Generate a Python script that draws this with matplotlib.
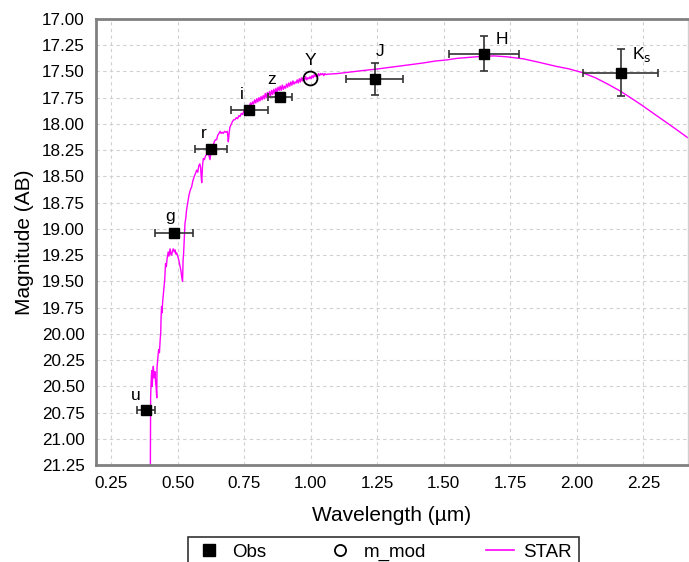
import matplotlib
matplotlib.use("Agg")
import matplotlib.pyplot as plt
from matplotlib.lines import Line2D
from matplotlib.ticker import MultipleLocator, FormatStrFormatter

plt.rcParams['font.family'] = ['Liberation Sans', 'DejaVu Sans']

# observed photometry
bands = ['u', 'g', 'r', 'i', 'z', 'J', 'H', r'K$_\mathrm{s}$']
obs_wl = [0.379, 0.486, 0.625, 0.769, 0.885, 1.240, 1.651, 2.165]
obs_mag = [20.73, 19.04, 18.24, 17.87, 17.74, 17.57, 17.33, 17.51]
obs_xerr = [0.034, 0.073, 0.061, 0.069, 0.046, 0.108, 0.131, 0.141]
obs_yerr = [0.0, 0.0, 0.0, 0.0, 0.0, 0.15, 0.17, 0.22]

# model magnitude
mod_wl = [0.998]
mod_mag = [17.565]

# stellar spectrum
star_wl = [0.397, 0.398, 0.400, 0.402, 0.404, 0.406, 0.408, 0.411, 0.414, 0.417, 0.419,
           0.421, 0.422, 0.425, 0.428, 0.431, 0.434, 0.436, 0.437, 0.439, 0.441, 0.443,
           0.446, 0.449, 0.451, 0.454, 0.457, 0.460, 0.464, 0.467, 0.471, 0.474, 0.477,
           0.480, 0.483, 0.487, 0.490, 0.493, 0.496, 0.500, 0.504, 0.508, 0.512, 0.515,
           0.518, 0.520, 0.522, 0.525, 0.527, 0.530, 0.533, 0.537, 0.542, 0.547, 0.552,
           0.557, 0.562, 0.567, 0.571, 0.575, 0.579, 0.583, 0.586, 0.588, 0.590, 0.593,
           0.596, 0.600, 0.605, 0.610, 0.615, 0.618, 0.621, 0.625, 0.629, 0.633, 0.637,
           0.642, 0.646, 0.650, 0.655, 0.659, 0.663, 0.667, 0.671, 0.676, 0.681, 0.686,
           0.688, 0.690, 0.693, 0.696, 0.700, 0.705, 0.710, 0.715, 0.720, 0.725, 0.730,
           0.734, 0.739, 0.744, 0.748, 0.753, 0.757, 0.761, 0.765, 0.769, 0.773, 0.777,
           0.781, 0.785, 0.789, 0.793, 0.797, 0.801, 0.805, 0.809, 0.813, 0.817, 0.821,
           0.825, 0.829, 0.833, 0.837, 0.841, 0.845, 0.849, 0.853, 0.857, 0.861, 0.865,
           0.869, 0.873, 0.877, 0.881, 0.885, 0.889, 0.893, 0.897, 0.901, 0.905, 0.909,
           0.913, 0.917, 0.921, 0.925, 0.929, 0.933, 0.937, 0.941, 0.945, 0.949, 0.953,
           0.957, 0.961, 0.965, 0.969, 0.973, 0.977, 0.981, 0.985, 0.989, 0.993, 0.997,
           1.001, 1.005, 1.009, 1.013, 1.017, 1.021, 1.025, 1.029, 1.033, 1.037, 1.041,
           1.045, 1.049, 1.053, 1.058, 1.064, 1.072, 1.10, 1.15, 1.20, 1.248, 1.30,
           1.36, 1.42, 1.47, 1.511, 1.55, 1.60, 1.648, 1.69, 1.736, 1.80, 1.862,
           1.92, 1.97, 2.02, 2.07, 2.12, 2.162, 2.187, 2.238, 2.28, 2.317, 2.37, 2.422]
star_mag = [21.25, 20.60, 20.45, 20.35, 20.50, 20.38, 20.31, 20.42, 20.36, 20.47, 20.52,
            20.61, 20.32, 20.24, 20.15, 20.18, 20.05, 19.99, 19.86, 19.74, 19.80, 19.70,
            19.62, 19.55, 19.48, 19.33, 19.36, 19.28, 19.22, 19.26, 19.19, 19.24, 19.25,
            19.21, 19.19, 19.22, 19.20, 19.24, 19.23, 19.26, 19.30, 19.35, 19.40, 19.46,
            19.50, 19.30, 19.23, 19.05, 18.95, 18.90, 18.82, 18.76, 18.68, 18.63, 18.60,
            18.54, 18.50, 18.47, 18.44, 18.46, 18.40, 18.38, 18.42, 18.50, 18.56, 18.40,
            18.33, 18.34, 18.30, 18.29, 18.28, 18.31, 18.34, 18.27, 18.22, 18.21, 18.17,
            18.15, 18.15, 18.11, 18.09, 18.07, 18.09, 18.08, 18.09, 18.07, 18.08, 18.07,
            18.11, 18.17, 18.09, 18.03, 18.01, 17.98, 17.96, 17.96, 17.94, 17.95, 17.92,
            17.93, 17.90, 17.91, 17.88, 17.87, 17.85, 17.86, 17.83, 17.84, 17.80, 17.82,
            17.79, 17.81, 17.77, 17.80, 17.76, 17.79, 17.75, 17.78, 17.74, 17.77, 17.73,
            17.76, 17.71, 17.75, 17.70, 17.74, 17.69, 17.73, 17.68, 17.72, 17.67, 17.71,
            17.66, 17.70, 17.65, 17.68, 17.64, 17.68, 17.63, 17.67, 17.64, 17.66, 17.62,
            17.65, 17.61, 17.64, 17.60, 17.63, 17.59, 17.62, 17.60, 17.61, 17.58, 17.61,
            17.57, 17.60, 17.56, 17.59, 17.56, 17.58, 17.55, 17.58, 17.56, 17.57, 17.55,
            17.57, 17.54, 17.56, 17.53, 17.55, 17.53, 17.55, 17.52, 17.54, 17.52, 17.53,
            17.52, 17.54, 17.52, 17.53, 17.525, 17.525, 17.52, 17.505, 17.49, 17.477, 17.46,
            17.44, 17.42, 17.40, 17.39, 17.375, 17.365, 17.355, 17.352, 17.36, 17.38, 17.415,
            17.45, 17.475, 17.51, 17.56, 17.625, 17.685, 17.725, 17.81, 17.885, 17.95, 18.045,
            18.14]

fig = plt.figure(figsize=(6.89, 5.62), dpi=100)
ax = fig.add_axes([0.1393, 0.1726, 0.8592, 0.7936])

ax.plot(star_wl, star_mag, color='#ff00ff', lw=1.0, zorder=2)
ax.errorbar(obs_wl, obs_mag, xerr=obs_xerr, yerr=obs_yerr, fmt='s', color='black',
            ms=7, ecolor='#333333', elinewidth=1.2, capsize=2.7, capthick=1.2, zorder=3)
ax.plot(mod_wl, mod_mag, 'o', mfc='none', mec='black', ms=10, mew=1.3, zorder=4)

# band labels, offsets in points from each marker
lab_off = [(-7, 11), (-3, 12), (-5.5, 11), (-5.5, 11.5), (-6, 12.5),
           (4, 20), (13, 10.5), (15, 13)]
for b, x, y, off in zip(bands, obs_wl, obs_mag, lab_off):
    ax.annotate(b, (x, y), xytext=off, textcoords='offset points',
                fontsize=12.5, ha='center', va='center')
ax.annotate('Y', (mod_wl[0], mod_mag[0]), xytext=(0, 13), textcoords='offset points',
            fontsize=12.5, ha='center', va='center')

ax.set_xlim(0.1925, 2.418)
ax.set_ylim(21.25, 17.0)
ax.xaxis.set_major_locator(MultipleLocator(0.25))
ax.yaxis.set_major_locator(MultipleLocator(0.25))
ax.xaxis.set_major_formatter(FormatStrFormatter('%.2f'))
ax.yaxis.set_major_formatter(FormatStrFormatter('%.2f'))
ax.tick_params(length=0, labelsize=12.3, pad=8)
ax.grid(True, color='#d0d0d0', ls=(0, (3, 3)), lw=0.8)
for s in ax.spines.values():
    s.set_color('#808080')
    s.set_linewidth(2)
ax.spines['right'].set_color('#d0d0d0')
ax.spines['right'].set_linewidth(1)

ax.set_xlabel('Wavelength (µm)', fontsize=15, labelpad=11)
ax.set_ylabel('Magnitude (AB)', fontsize=15, labelpad=6)

handles = [Line2D([], [], marker='s', color='black', ls='none', ms=8),
           Line2D([], [], marker='o', mfc='none', mec='black', ls='none', ms=8, mew=1.3),
           Line2D([], [], color='#ff00ff', lw=1.2)]
leg = fig.legend(handles, ['Obs', 'm_mod', 'STAR'], ncol=3, loc='upper left',
                 bbox_to_anchor=(188 / 689, 1 - 537 / 562), fontsize=13.5,
                 frameon=True, fancybox=False, edgecolor='black', columnspacing=3.2,
                 handlelength=1.5, handletextpad=0.5, borderaxespad=0, borderpad=0.35)
leg.get_frame().set_linewidth(1.2)

fig.savefig('out.png', dpi=100)
